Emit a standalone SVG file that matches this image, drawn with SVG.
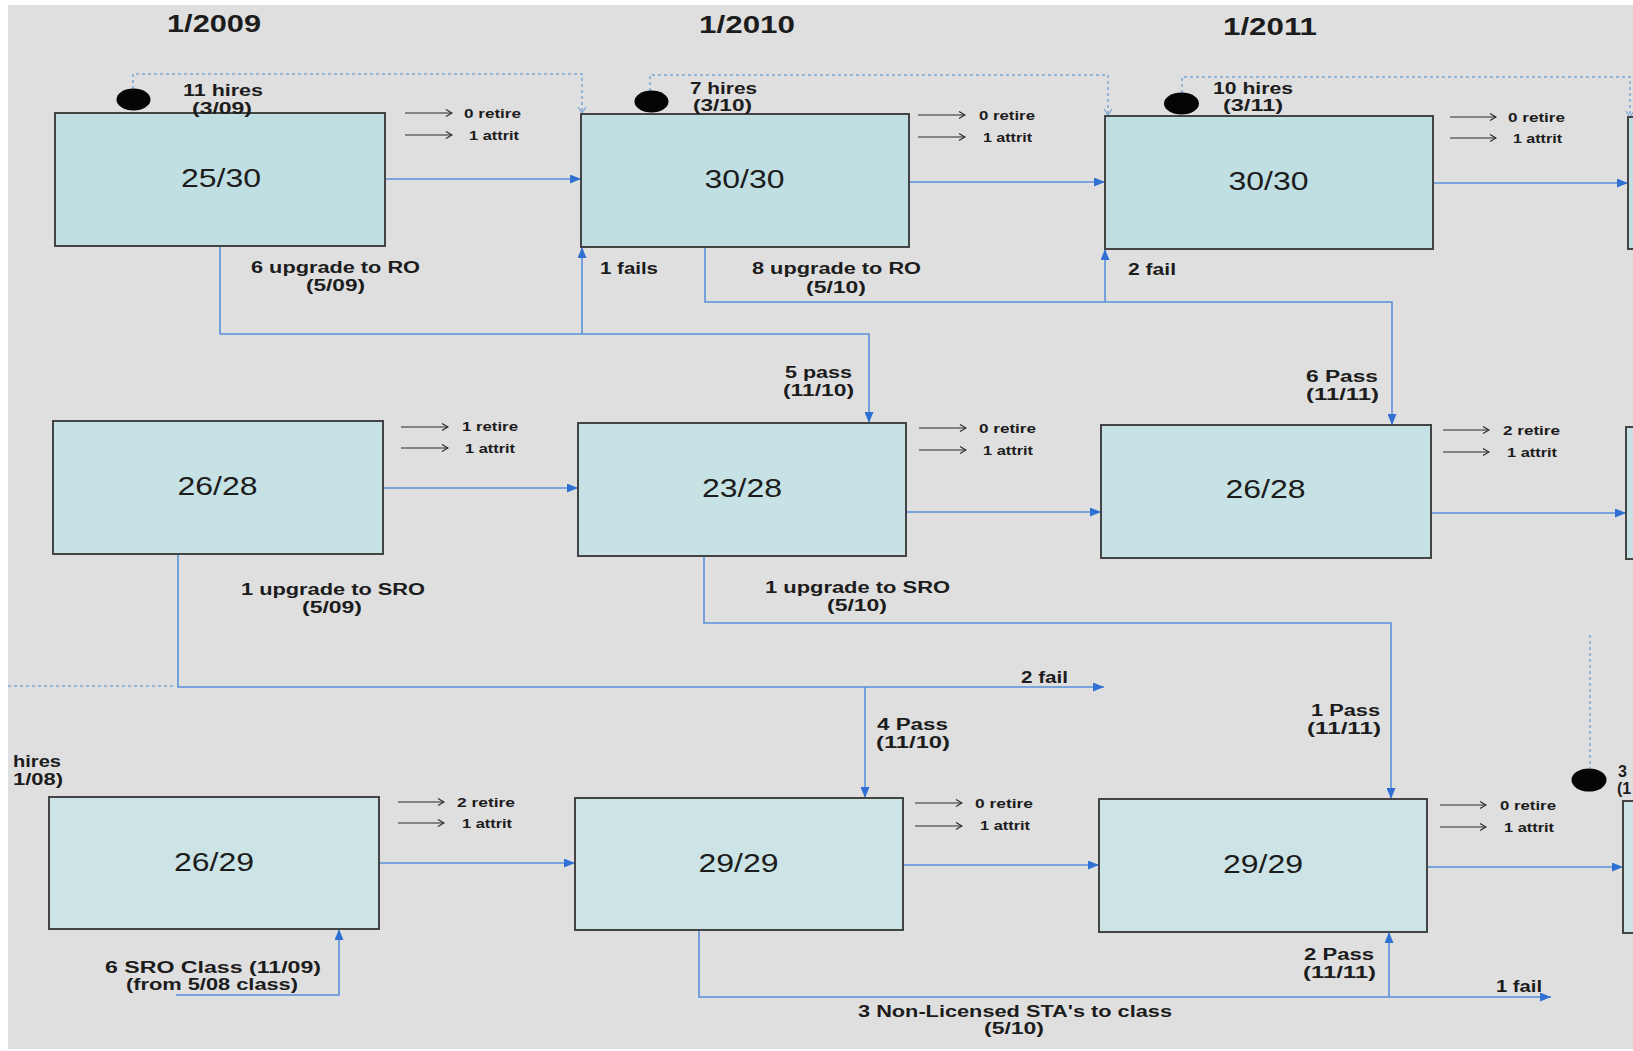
<svg xmlns="http://www.w3.org/2000/svg" width="1633" height="1051" viewBox="0 0 1633 1051">
<defs>
<style>
.bg{fill:#dfdfdf}
.box{stroke:#444444;stroke-width:2}
.r1{fill:#bfdfe3}
.r2{fill:#c7e2e5}
.r3{fill:#cce4e6}
text{font-family:"Liberation Sans",Arial,sans-serif;fill:#1c1c1c}
.num{font-size:26px}
.ttl{font-size:24px;font-weight:bold}
.lbl{font-size:16px;font-weight:bold}
.sm{font-size:13px;font-weight:bold}
.conn{fill:none;stroke:#5a90d8;stroke-width:1.6}
.dots{fill:none;stroke:#7fa7d6;stroke-width:1.5;stroke-dasharray:3 3}
.out{fill:none;stroke:#2a2a2a;stroke-width:1.2}
</style>
<marker id="ab" markerUnits="userSpaceOnUse" markerWidth="11" markerHeight="9" refX="11" refY="4.5" orient="auto"><path d="M0,0 L11,4.5 L0,9 z" fill="#2f70d2"/></marker>
<marker id="ak" markerUnits="userSpaceOnUse" markerWidth="8" markerHeight="9" refX="7" refY="4.5" orient="auto"><path d="M1,1 L7,4.5 L1,8" fill="none" stroke="#2a2a2a" stroke-width="1.2"/></marker>
<marker id="ad" markerUnits="userSpaceOnUse" markerWidth="8" markerHeight="10" refX="7" refY="5" orient="auto"><path d="M1,1 L7,5 L1,9" fill="none" stroke="#7fa7d6" stroke-width="1.2"/></marker>
</defs>
<rect x="0" y="0" width="1633" height="1051" fill="#ffffff"/>
<rect class="bg" x="8" y="5" width="1625" height="1044"/>

<g id="titles">
<text class="ttl" x="167" y="32" textLength="94" lengthAdjust="spacingAndGlyphs">1/2009</text>
<text class="ttl" x="699" y="33" textLength="96" lengthAdjust="spacingAndGlyphs">1/2010</text>
<text class="ttl" x="1223" y="35" textLength="94" lengthAdjust="spacingAndGlyphs">1/2011</text>
</g>

<g id="connectors">
<path class="conn" d="M385,179 H581" marker-end="url(#ab)"/>
<path class="conn" d="M909,182 H1105" marker-end="url(#ab)"/>
<path class="conn" d="M1433,183 H1628" marker-end="url(#ab)"/>
<path class="conn" d="M383,488 H578" marker-end="url(#ab)"/>
<path class="conn" d="M906,512 H1101" marker-end="url(#ab)"/>
<path class="conn" d="M1431,513 H1626" marker-end="url(#ab)"/>
<path class="conn" d="M379,863 H575" marker-end="url(#ab)"/>
<path class="conn" d="M903,865 H1099" marker-end="url(#ab)"/>
<path class="conn" d="M1427,867 H1623" marker-end="url(#ab)"/>
<path class="conn" d="M220,246 V334 H869 V423" marker-end="url(#ab)"/>
<path class="conn" d="M582,334 V247" marker-end="url(#ab)"/>
<path class="conn" d="M705,247 V302 H1392 V425" marker-end="url(#ab)"/>
<path class="conn" d="M1105,302 V249" marker-end="url(#ab)"/>
<path class="conn" d="M178,554 V687 H1104" marker-end="url(#ab)"/>
<path class="conn" d="M865,687 V798" marker-end="url(#ab)"/>
<path class="dots" d="M8,686 H176"/>
<path class="conn" d="M704,556 V623 H1391 V799" marker-end="url(#ab)"/>
<path class="conn" d="M699,930 V997 H1551" marker-end="url(#ab)"/>
<path class="conn" d="M1389,997 V932" marker-end="url(#ab)"/>
<path class="conn" d="M176,995 H339 V929" marker-end="url(#ab)"/>
<path class="dots" d="M133,89 V74 H582 V113" marker-end="url(#ad)"/>
<path class="dots" d="M650,91 V75 H1108 V115" marker-end="url(#ad)"/>
<path class="dots" d="M1182,93 V77 H1630 V117" marker-end="url(#ad)"/>
<path class="dots" d="M1590,635 V768"/>
<path class="out" d="M405,113 H452" marker-end="url(#ak)"/>
<path class="out" d="M405,135 H452" marker-end="url(#ak)"/>
<path class="out" d="M918,115 H965" marker-end="url(#ak)"/>
<path class="out" d="M918,137 H965" marker-end="url(#ak)"/>
<path class="out" d="M1450,117 H1496" marker-end="url(#ak)"/>
<path class="out" d="M1450,138 H1496" marker-end="url(#ak)"/>
<path class="out" d="M401,427 H448" marker-end="url(#ak)"/>
<path class="out" d="M401,448 H448" marker-end="url(#ak)"/>
<path class="out" d="M919,428 H966" marker-end="url(#ak)"/>
<path class="out" d="M919,450 H966" marker-end="url(#ak)"/>
<path class="out" d="M1443,430 H1489" marker-end="url(#ak)"/>
<path class="out" d="M1443,452 H1489" marker-end="url(#ak)"/>
<path class="out" d="M398,802 H444" marker-end="url(#ak)"/>
<path class="out" d="M398,823 H444" marker-end="url(#ak)"/>
<path class="out" d="M915,803 H962" marker-end="url(#ak)"/>
<path class="out" d="M915,826 H962" marker-end="url(#ak)"/>
<path class="out" d="M1440,805 H1486" marker-end="url(#ak)"/>
<path class="out" d="M1440,827 H1486" marker-end="url(#ak)"/>
</g>

<g id="nodeA">
<rect class="box r1" x="55" y="113" width="330" height="133"/>
<text class="num" x="221" y="187" text-anchor="middle" textLength="80" lengthAdjust="spacingAndGlyphs">25/30</text>
<ellipse cx="133.5" cy="99.5" rx="17" ry="11" fill="#050505"/>
<text class="lbl" x="183" y="96" textLength="80" lengthAdjust="spacingAndGlyphs">11 hires</text>
<text class="lbl" x="192" y="114" textLength="60" lengthAdjust="spacingAndGlyphs">(3/09)</text>
<text class="sm" x="464" y="118" textLength="57" lengthAdjust="spacingAndGlyphs">0 retire</text>
<text class="sm" x="469" y="140" textLength="50" lengthAdjust="spacingAndGlyphs">1 attrit</text>
</g>

<g id="nodeB">
<rect class="box r1" x="581" y="114" width="328" height="133"/>
<text class="num" x="744.5" y="188" text-anchor="middle" textLength="80" lengthAdjust="spacingAndGlyphs">30/30</text>
<ellipse cx="651.5" cy="101.5" rx="17" ry="11" fill="#050505"/>
<text class="lbl" x="690" y="94" textLength="67" lengthAdjust="spacingAndGlyphs">7 hires</text>
<text class="lbl" x="693" y="111" textLength="59" lengthAdjust="spacingAndGlyphs">(3/10)</text>
<text class="sm" x="979" y="120" textLength="56" lengthAdjust="spacingAndGlyphs">0 retire</text>
<text class="sm" x="983" y="142" textLength="49" lengthAdjust="spacingAndGlyphs">1 attrit</text>
</g>

<g id="nodeC">
<rect class="box r1" x="1105" y="116" width="328" height="133"/>
<text class="num" x="1268.5" y="190" text-anchor="middle" textLength="80" lengthAdjust="spacingAndGlyphs">30/30</text>
<ellipse cx="1181.5" cy="103.5" rx="17.5" ry="11" fill="#050505"/>
<text class="lbl" x="1213" y="94" textLength="80" lengthAdjust="spacingAndGlyphs">10 hires</text>
<text class="lbl" x="1223" y="111" textLength="60" lengthAdjust="spacingAndGlyphs">(3/11)</text>
<text class="sm" x="1508" y="122" textLength="57" lengthAdjust="spacingAndGlyphs">0 retire</text>
<text class="sm" x="1513" y="143" textLength="49" lengthAdjust="spacingAndGlyphs">1 attrit</text>
</g>

<g id="nodeD">
<rect class="box r1" x="1628" y="117" width="30" height="132"/>
</g>

<g id="nodeE">
<rect class="box r2" x="53" y="421" width="330" height="133"/>
<text class="num" x="217.5" y="495" text-anchor="middle" textLength="80" lengthAdjust="spacingAndGlyphs">26/28</text>
<text class="sm" x="462" y="431" textLength="56" lengthAdjust="spacingAndGlyphs">1 retire</text>
<text class="sm" x="465" y="453" textLength="50" lengthAdjust="spacingAndGlyphs">1 attrit</text>
</g>

<g id="nodeF">
<rect class="box r2" x="578" y="423" width="328" height="133"/>
<text class="num" x="742" y="497" text-anchor="middle" textLength="80" lengthAdjust="spacingAndGlyphs">23/28</text>
<text class="sm" x="979" y="433" textLength="57" lengthAdjust="spacingAndGlyphs">0 retire</text>
<text class="sm" x="983" y="455" textLength="50" lengthAdjust="spacingAndGlyphs">1 attrit</text>
</g>

<g id="nodeG">
<rect class="box r2" x="1101" y="425" width="330" height="133"/>
<text class="num" x="1265.5" y="498" text-anchor="middle" textLength="80" lengthAdjust="spacingAndGlyphs">26/28</text>
<text class="sm" x="1503" y="435" textLength="57" lengthAdjust="spacingAndGlyphs">2 retire</text>
<text class="sm" x="1507" y="457" textLength="50" lengthAdjust="spacingAndGlyphs">1 attrit</text>
</g>

<g id="nodeH">
<rect class="box r2" x="1626" y="427" width="30" height="132"/>
</g>

<g id="nodeI">
<rect class="box r3" x="49" y="797" width="330" height="132"/>
<text class="num" x="214" y="871" text-anchor="middle" textLength="80" lengthAdjust="spacingAndGlyphs">26/29</text>
<text class="sm" x="457" y="807" textLength="58" lengthAdjust="spacingAndGlyphs">2 retire</text>
<text class="sm" x="462" y="828" textLength="50" lengthAdjust="spacingAndGlyphs">1 attrit</text>
</g>

<g id="nodeJ">
<rect class="box r3" x="575" y="798" width="328" height="132"/>
<text class="num" x="738.5" y="872" text-anchor="middle" textLength="80" lengthAdjust="spacingAndGlyphs">29/29</text>
<text class="sm" x="975" y="808" textLength="58" lengthAdjust="spacingAndGlyphs">0 retire</text>
<text class="sm" x="980" y="830" textLength="50" lengthAdjust="spacingAndGlyphs">1 attrit</text>
</g>

<g id="nodeK">
<rect class="box r3" x="1099" y="799" width="328" height="133"/>
<text class="num" x="1263" y="873" text-anchor="middle" textLength="80" lengthAdjust="spacingAndGlyphs">29/29</text>
<text class="sm" x="1500" y="810" textLength="56" lengthAdjust="spacingAndGlyphs">0 retire</text>
<text class="sm" x="1504" y="832" textLength="50" lengthAdjust="spacingAndGlyphs">1 attrit</text>
</g>

<g id="nodeL">
<rect class="box r3" x="1623" y="801" width="30" height="132"/>
<ellipse cx="1589" cy="780" rx="17.5" ry="11.5" fill="#050505"/>
<text class="lbl" x="1618" y="777">3</text>
<text class="lbl" x="1617" y="794">(1</text>
</g>

<g id="labels">
<text class="lbl" x="251" y="273" textLength="169" lengthAdjust="spacingAndGlyphs">6 upgrade to RO</text>
<text class="lbl" x="306" y="291" textLength="59" lengthAdjust="spacingAndGlyphs">(5/09)</text>
<text class="lbl" x="600" y="274" textLength="58" lengthAdjust="spacingAndGlyphs">1 fails</text>
<text class="lbl" x="752" y="274" textLength="169" lengthAdjust="spacingAndGlyphs">8 upgrade to RO</text>
<text class="lbl" x="806" y="293" textLength="60" lengthAdjust="spacingAndGlyphs">(5/10)</text>
<text class="lbl" x="1128" y="275" textLength="48" lengthAdjust="spacingAndGlyphs">2 fail</text>
<text class="lbl" x="785" y="378" textLength="67" lengthAdjust="spacingAndGlyphs">5 pass</text>
<text class="lbl" x="783" y="396" textLength="71" lengthAdjust="spacingAndGlyphs">(11/10)</text>
<text class="lbl" x="1306" y="382" textLength="72" lengthAdjust="spacingAndGlyphs">6 Pass</text>
<text class="lbl" x="1306" y="400" textLength="73" lengthAdjust="spacingAndGlyphs">(11/11)</text>
<text class="lbl" x="241" y="595" textLength="184" lengthAdjust="spacingAndGlyphs">1 upgrade to SRO</text>
<text class="lbl" x="302" y="613" textLength="60" lengthAdjust="spacingAndGlyphs">(5/09)</text>
<text class="lbl" x="765" y="593" textLength="185" lengthAdjust="spacingAndGlyphs">1 upgrade to SRO</text>
<text class="lbl" x="827" y="611" textLength="60" lengthAdjust="spacingAndGlyphs">(5/10)</text>
<text class="lbl" x="1021" y="683" textLength="47" lengthAdjust="spacingAndGlyphs">2 fail</text>
<text class="lbl" x="877" y="730" textLength="71" lengthAdjust="spacingAndGlyphs">4 Pass</text>
<text class="lbl" x="876" y="748" textLength="74" lengthAdjust="spacingAndGlyphs">(11/10)</text>
<text class="lbl" x="1311" y="716" textLength="69" lengthAdjust="spacingAndGlyphs">1 Pass</text>
<text class="lbl" x="1307" y="734" textLength="74" lengthAdjust="spacingAndGlyphs">(11/11)</text>
<text class="lbl" x="13" y="767" textLength="48" lengthAdjust="spacingAndGlyphs">hires</text>
<text class="lbl" x="13" y="785" textLength="50" lengthAdjust="spacingAndGlyphs">1/08)</text>
<text class="lbl" x="105" y="973" textLength="216" lengthAdjust="spacingAndGlyphs">6 SRO Class (11/09)</text>
<text class="lbl" x="126" y="990" textLength="172" lengthAdjust="spacingAndGlyphs">(from 5/08 class)</text>
<text class="lbl" x="858" y="1017" textLength="314" lengthAdjust="spacingAndGlyphs">3 Non-Licensed STA's to class</text>
<text class="lbl" x="984" y="1034" textLength="60" lengthAdjust="spacingAndGlyphs">(5/10)</text>
<text class="lbl" x="1304" y="960" textLength="70" lengthAdjust="spacingAndGlyphs">2 Pass</text>
<text class="lbl" x="1303" y="978" textLength="73" lengthAdjust="spacingAndGlyphs">(11/11)</text>
<text class="lbl" x="1496" y="992" textLength="46" lengthAdjust="spacingAndGlyphs">1 fail</text>
</g>
</svg>
